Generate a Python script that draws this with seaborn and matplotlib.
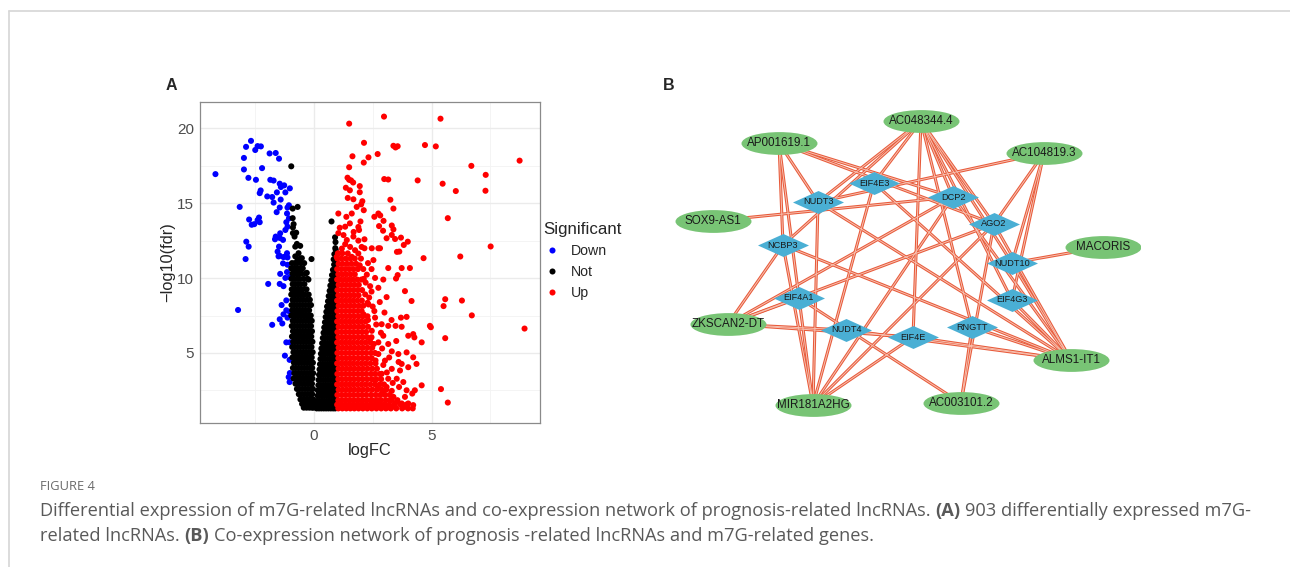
import matplotlib
matplotlib.use("Agg")
import matplotlib.pyplot as plt
import seaborn as sns
import pandas as pd
from matplotlib.path import Path
from matplotlib.lines import Line2D

# ---------------- volcano data: (logFC, -log10 FDR) ----------------
down_points = [
    (-4.18, 16.94), (-2.67, 19.16), (-2.88, 18.76), (-2.39, 18.81), (-2.25, 18.79),
    (-2.49, 18.55), (-1.88, 18.32), (-1.62, 18.35), (-1.48, 17.97), (-2.97, 18.02),
    (-2.97, 17.25), (-2.20, 17.34), (-2.78, 16.69), (-2.46, 16.56), (-1.85, 16.56),
    (-1.71, 16.51), (-1.45, 16.30), (-1.40, 16.08), (-1.26, 16.19), (-1.02, 15.99),
    (-1.21, 15.72), (-1.57, 15.72), (-1.77, 15.41), (-1.98, 15.45), (-1.71, 15.04),
    (-1.41, 15.24), (-1.45, 14.71), (-1.58, 14.40), (-1.12, 14.71), (-1.06, 14.86),
    (-2.26, 15.85), (-2.30, 15.67), (-3.15, 14.75), (-2.75, 13.91), (-2.64, 13.56),
    (-2.53, 13.60), (-2.33, 14.04), (-2.30, 13.73), (-2.39, 13.87), (-2.87, 12.43),
    (-2.77, 12.10), (-2.90, 11.27), (-1.14, 14.31), (-1.06, 13.98), (-1.17, 13.73),
    (-1.12, 13.43), (-1.21, 13.21), (-1.43, 12.99), (-1.62, 12.77), (-1.65, 12.59),
    (-1.45, 12.68), (-1.31, 12.55), (-1.48, 12.10), (-1.54, 11.77), (-1.45, 11.49),
    (-1.21, 11.45), (-1.14, 11.66), (-1.50, 11.45), (-1.29, 11.40), (-1.12, 11.38),
    (-1.31, 10.98), (-1.12, 10.89), (-1.43, 10.28), (-1.21, 10.01), (-1.03, 10.06),
    (-1.14, 10.40), (-1.94, 9.61), (-1.45, 9.61), (-1.29, 9.46), (-3.22, 7.87),
    (-1.17, 8.51), (-1.37, 8.20), (-1.17, 7.85), (-1.03, 7.76), (-1.29, 7.58),
    (-1.45, 7.25), (-1.12, 7.36), (-1.34, 6.97), (-1.77, 6.88), (-1.17, 5.71),
    (-1.02, 5.71), (-1.23, 4.82), (-1.03, 4.54), (-1.02, 3.66), (-1.03, 3.06),
    (-1.07, 3.39),
]

not_points = [
    (-0.96, 17.46), (-0.69, 14.75), (-0.90, 14.64), (-0.90, 14.00), (-0.89, 13.38),
    (-0.75, 13.03), (-0.82, 12.77), (-0.72, 12.28), (-0.58, 12.15), (-0.79, 11.45),
    (-0.58, 11.31), (-0.69, 11.22), (-0.86, 13.60), (-0.89, 13.00), (-0.79, 12.10),
    (-0.65, 11.66), (-0.51, 11.33), (-0.10, 11.27), (0.75, 13.78), (0.90, 12.72),
    (0.92, 12.40), (0.93, 11.88), (0.95, 10.89), (0.93, 10.56), (0.37, 4.86),
    (-0.23, 9.90), (-0.30, 10.35),
]

# dense part of the non-significant cloud: (fdr, [logFC, ...]) per band
not_rows_left = [
    (11.0, [-0.93, -0.81, -0.70, -0.55, -0.41]),
    (10.65, [-0.96, -0.85, -0.73, -0.61, -0.47]),
    (10.3, [-0.91, -0.78, -0.66, -0.53, -0.36]),
    (9.95, [-0.95, -0.84, -0.72, -0.61, -0.44, -0.27]),
    (9.6, [-0.90, -0.79, -0.67, -0.55, -0.40]),
    (9.25, [-0.94, -0.83, -0.71, -0.59, -0.47, -0.31]),
    (8.9, [-0.96, -0.86, -0.74, -0.62, -0.50, -0.38, -0.22]),
    (8.55, [-0.91, -0.80, -0.68, -0.56, -0.44, -0.30, -0.17]),
    (8.2, [-0.95, -0.84, -0.72, -0.60, -0.48, -0.36, -0.23, -0.12]),
    (7.85, [-0.92, -0.80, -0.69, -0.57, -0.45, -0.33, -0.20]),
    (7.5, [-0.96, -0.85, -0.73, -0.61, -0.49, -0.37, -0.25, -0.13]),
    (7.15, [-0.90, -0.79, -0.67, -0.55, -0.43, -0.31, -0.19, -0.09]),
    (6.8, [-0.94, -0.83, -0.71, -0.59, -0.47, -0.35, -0.23, -0.12]),
    (6.45, [-0.89, -0.78, -0.66, -0.54, -0.42, -0.30, -0.18, -0.08]),
    (6.1, [-0.93, -0.82, -0.70, -0.58, -0.46, -0.34, -0.22, -0.11]),
    (5.75, [-0.88, -0.76, -0.64, -0.52, -0.40, -0.28, -0.16, -0.06]),
    (5.4, [-0.92, -0.81, -0.69, -0.57, -0.45, -0.33, -0.21, -0.10]),
    (5.05, [-0.87, -0.75, -0.63, -0.51, -0.39, -0.27, -0.15, -0.05]),
    (4.7, [-0.91, -0.80, -0.68, -0.56, -0.44, -0.32, -0.20, -0.09]),
    (4.35, [-0.85, -0.73, -0.61, -0.49, -0.37, -0.25, -0.13, -0.04]),
    (4.0, [-0.89, -0.77, -0.65, -0.53, -0.41, -0.29, -0.17, -0.07]),
    (3.65, [-0.83, -0.71, -0.59, -0.47, -0.35, -0.23, -0.11, -0.03]),
    (3.3, [-0.86, -0.75, -0.63, -0.51, -0.39, -0.27, -0.15, -0.06]),
    (2.95, [-0.78, -0.66, -0.54, -0.42, -0.30, -0.18, -0.08]),
    (2.6, [-0.72, -0.61, -0.49, -0.37, -0.25, -0.13, -0.04]),
    (2.25, [-0.64, -0.53, -0.41, -0.29, -0.17, -0.07]),
    (1.9, [-0.57, -0.45, -0.33, -0.21, -0.10, -0.03]),
    (1.6, [-0.50, -0.38, -0.26, -0.14, -0.05]),
    (1.35, [-0.43, -0.31, -0.19, -0.08, -0.02]),
]

not_rows_right = [
    (12.0, [0.91]),
    (11.6, [0.87, 0.95]),
    (11.25, [0.84, 0.94]),
    (10.9, [0.86, 0.96]),
    (10.55, [0.81, 0.91]),
    (10.2, [0.77, 0.87, 0.96]),
    (9.85, [0.74, 0.84, 0.93]),
    (9.5, [0.70, 0.80, 0.90, 0.97]),
    (9.15, [0.67, 0.77, 0.87, 0.95]),
    (8.8, [0.63, 0.73, 0.83, 0.93]),
    (8.45, [0.60, 0.70, 0.80, 0.90, 0.97]),
    (8.1, [0.56, 0.66, 0.76, 0.86, 0.95]),
    (7.75, [0.53, 0.63, 0.73, 0.83, 0.93]),
    (7.4, [0.50, 0.60, 0.70, 0.80, 0.90, 0.97]),
    (7.05, [0.47, 0.57, 0.67, 0.77, 0.87, 0.95]),
    (6.7, [0.44, 0.54, 0.64, 0.74, 0.84, 0.93]),
    (6.35, [0.41, 0.51, 0.61, 0.71, 0.81, 0.91, 0.97]),
    (6.0, [0.38, 0.48, 0.58, 0.68, 0.78, 0.88, 0.95]),
    (5.65, [0.35, 0.45, 0.55, 0.65, 0.75, 0.85, 0.93]),
    (5.3, [0.32, 0.42, 0.52, 0.62, 0.72, 0.82, 0.91, 0.97]),
    (4.95, [0.30, 0.40, 0.50, 0.60, 0.70, 0.80, 0.89, 0.96]),
    (4.6, [0.28, 0.38, 0.48, 0.58, 0.68, 0.78, 0.88, 0.95]),
    (4.25, [0.26, 0.36, 0.46, 0.56, 0.66, 0.76, 0.86, 0.94]),
    (3.9, [0.24, 0.34, 0.44, 0.54, 0.64, 0.74, 0.84, 0.93]),
    (3.55, [0.22, 0.32, 0.42, 0.52, 0.62, 0.72, 0.82, 0.91, 0.97]),
    (3.2, [0.20, 0.30, 0.40, 0.50, 0.60, 0.70, 0.80, 0.89, 0.96]),
    (2.85, [0.19, 0.29, 0.39, 0.49, 0.59, 0.69, 0.79, 0.88, 0.95]),
    (2.5, [0.17, 0.27, 0.37, 0.47, 0.57, 0.67, 0.77, 0.87, 0.95]),
    (2.15, [0.16, 0.26, 0.36, 0.46, 0.56, 0.66, 0.76, 0.86, 0.94]),
    (1.8, [0.14, 0.24, 0.34, 0.44, 0.54, 0.64, 0.74, 0.84, 0.93]),
    (1.5, [0.13, 0.23, 0.33, 0.43, 0.53, 0.63, 0.73, 0.83, 0.92]),
    (1.3, [0.12, 0.22, 0.32, 0.42, 0.52, 0.62, 0.72, 0.82, 0.91]),
]

up_points = [
    (1.50, 20.31), (2.98, 20.78), (5.38, 20.64), (2.13, 19.03), (3.38, 18.83),
    (3.47, 18.72), (3.56, 18.80), (4.72, 18.88), (5.18, 18.79), (1.64, 18.13),
    (2.32, 18.06), (2.71, 18.28), (2.12, 17.71), (1.50, 17.40), (8.74, 17.84),
    (6.69, 17.49), (7.30, 16.89), (7.29, 15.83), (5.47, 16.30), (6.03, 15.81),
    (4.41, 16.52), (1.43, 16.70), (1.50, 16.56), (1.58, 16.52), (1.67, 16.38),
    (2.99, 16.61), (3.16, 16.58), (1.95, 16.14), (1.36, 16.03), (1.53, 15.86),
    (1.95, 15.73), (1.44, 15.35), (1.68, 15.26), (2.06, 15.13), (2.01, 14.92),
    (1.82, 14.75), (2.12, 14.53), (3.25, 15.23), (3.38, 14.64), (5.69, 14.00),
    (1.04, 14.31), (1.38, 14.09), (1.61, 14.31), (1.98, 13.78), (2.57, 14.09),
    (2.74, 14.31), (2.82, 14.18), (1.10, 13.36), (1.33, 13.43), (1.53, 13.65),
    (1.89, 13.41), (1.92, 13.21), (1.69, 13.08), (2.77, 13.47), (2.96, 13.82),
    (2.94, 13.16), (3.31, 13.51), (3.38, 13.25), (3.45, 12.61), (3.70, 12.70),
    (3.82, 12.21), (3.99, 12.43), (3.09, 12.66), (3.31, 12.88), (1.04, 13.00),
    (1.26, 12.87), (1.40, 12.54), (1.68, 12.77), (1.89, 12.50), (2.15, 12.59),
    (2.15, 11.99), (2.46, 11.99), (2.74, 11.99), (2.81, 11.99), (2.03, 12.08),
    (1.75, 11.86), (1.54, 12.08), (1.33, 12.26), (1.19, 11.97), (1.04, 11.64),
    (0.97, 11.42), (3.63, 11.77), (3.53, 11.75), (1.89, 11.64), (1.61, 11.42),
    (4.66, 11.33), (7.51, 12.11), (6.22, 11.44), (5.58, 8.59), (5.51, 8.13),
    (6.29, 8.50), (6.71, 7.51), (4.97, 6.72), (8.95, 6.63), (5.58, 5.99),
    (5.40, 2.59), (5.69, 1.69), (2.53, 11.20), (3.16, 10.67), (3.73, 10.67),
    (4.08, 10.67), (3.49, 9.97), (3.56, 10.20), (2.95, 9.90), (2.74, 9.35),
    (3.09, 8.73), (3.87, 9.13), (4.15, 8.47), (3.70, 7.36), (3.94, 7.41),
    (3.47, 6.81), (3.73, 6.75), (4.01, 6.15), (4.22, 6.26), (4.58, 5.71),
    (4.93, 6.81), (4.27, 6.04), (4.22, 4.71), (3.94, 5.04), (3.59, 4.93),
    (3.73, 4.27), (4.01, 4.05), (4.36, 4.27), (3.66, 3.83), (3.52, 3.28),
    (3.80, 3.06), (3.62, 2.73), (3.94, 2.51), (4.18, 2.29), (3.31, 2.47),
    (3.09, 2.73), (3.38, 2.07), (3.87, 2.07), (4.22, 1.52), (4.58, 2.84),
    (4.29, 2.51), (2.95, 6.15), (3.16, 5.60), (3.31, 5.11), (2.74, 4.93),
    (3.02, 4.49), (3.31, 3.94), (2.60, 7.36), (2.88, 6.92), (2.46, 6.48),
    (3.16, 6.81), (2.74, 5.71), (2.18, 8.91), (2.32, 8.24), (2.57, 7.80),
    (2.11, 7.58), (2.39, 9.46), (2.60, 10.01), (2.25, 10.23), (2.88, 3.61),
    (2.60, 3.17), (3.16, 3.28), (2.95, 2.29), (2.74, 1.84), (3.23, 1.84),
    (3.52, 1.73), (3.73, 1.63), (4.01, 1.63), (2.95, 1.52), (2.60, 1.52),
    (2.46, 1.84), (2.25, 1.41), (3.87, 1.41), (3.45, 1.41), (3.14, 1.37),
    # looser fringe along the right edge of the dense cloud
    (2.45, 10.60), (2.20, 9.70), (2.35, 8.70), (2.50, 8.10), (2.65, 6.90),
    (2.55, 5.60), (2.90, 5.30), (2.95, 4.20), (3.10, 3.70), (3.35, 3.00),
    (2.30, 7.20), (2.10, 10.60), (2.30, 11.00), (2.00, 11.30), (2.80, 8.40),
    (2.45, 9.10), (3.00, 7.70), (3.30, 7.20), (3.50, 5.80), (3.20, 4.70),
    (3.60, 4.40), (2.70, 2.60), (2.85, 6.35), (2.40, 5.95), (2.62, 4.50),
    (2.12, 9.95), (1.95, 10.85), (2.28, 8.35),
]

# dense part of the up-regulated cloud: (fdr, [logFC, ...]) per band
up_rows = [
    (11.65, [1.02, 1.21, 1.44]),
    (11.3, [1.00, 1.18, 1.36, 1.55, 1.74]),
    (10.95, [1.05, 1.22, 1.41, 1.60, 1.80]),
    (10.6, [0.99, 1.16, 1.33, 1.50, 1.68, 1.87]),
    (10.25, [1.04, 1.21, 1.38, 1.56, 1.74]),
    (9.9, [0.99, 1.15, 1.32, 1.49, 1.66, 1.84, 2.02]),
    (9.55, [1.05, 1.22, 1.39, 1.56, 1.73, 1.91]),
    (9.2, [1.00, 1.17, 1.34, 1.51, 1.68, 1.86, 2.05]),
    (8.85, [1.04, 1.21, 1.38, 1.55, 1.72, 1.90]),
    (8.5, [0.99, 1.16, 1.33, 1.50, 1.67, 1.85, 2.04]),
    (8.15, [1.05, 1.22, 1.39, 1.56, 1.73, 1.92, 2.10]),
    (7.8, [1.00, 1.17, 1.34, 1.51, 1.68, 1.86, 2.03]),
    (7.45, [1.04, 1.21, 1.38, 1.55, 1.72, 1.90, 2.08, 2.28]),
    (7.1, [0.99, 1.16, 1.33, 1.50, 1.67, 1.85, 2.02, 2.20]),
    (6.75, [1.05, 1.22, 1.39, 1.56, 1.73, 1.91, 2.09, 2.30]),
    (6.4, [1.00, 1.17, 1.34, 1.51, 1.68, 1.86, 2.04, 2.22]),
    (6.05, [1.04, 1.21, 1.38, 1.55, 1.72, 1.90, 2.08, 2.27, 2.45]),
    (5.7, [0.99, 1.16, 1.33, 1.50, 1.67, 1.85, 2.03, 2.21, 2.40]),
    (5.35, [1.05, 1.22, 1.39, 1.56, 1.73, 1.91, 2.09, 2.28, 2.48]),
    (5.0, [1.00, 1.17, 1.34, 1.51, 1.68, 1.86, 2.04, 2.22, 2.42, 2.60]),
    (4.65, [1.04, 1.21, 1.38, 1.55, 1.72, 1.90, 2.08, 2.27, 2.46]),
    (4.3, [0.99, 1.16, 1.33, 1.50, 1.67, 1.85, 2.03, 2.21, 2.40, 2.62]),
    (3.95, [1.05, 1.22, 1.39, 1.56, 1.73, 1.91, 2.09, 2.28, 2.48, 2.68]),
    (3.6, [1.00, 1.17, 1.34, 1.51, 1.68, 1.86, 2.04, 2.22, 2.42, 2.60, 2.80]),
    (3.25, [1.04, 1.21, 1.38, 1.55, 1.72, 1.90, 2.08, 2.27, 2.46, 2.66, 2.86]),
    (2.9, [0.99, 1.16, 1.33, 1.50, 1.67, 1.85, 2.03, 2.21, 2.40, 2.60, 2.80, 2.98]),
    (2.55, [1.05, 1.22, 1.39, 1.56, 1.73, 1.91, 2.09, 2.28, 2.48, 2.68, 2.88, 3.08]),
    (2.2, [1.00, 1.17, 1.34, 1.51, 1.68, 1.86, 2.04, 2.22, 2.42, 2.62, 2.82, 3.02, 3.22]),
    (1.85, [1.04, 1.21, 1.38, 1.55, 1.72, 1.90, 2.08, 2.27, 2.46, 2.66, 2.86, 3.06, 3.30, 3.55]),
    (1.55, [0.99, 1.16, 1.33, 1.50, 1.67, 1.85, 2.03, 2.21, 2.40, 2.60, 2.80, 3.00, 3.20, 3.42, 3.68, 3.92]),
    (1.3, [1.04, 1.21, 1.38, 1.55, 1.72, 1.90, 2.08, 2.27, 2.46, 2.66, 2.86, 3.06, 3.27, 3.50, 3.75, 4.00, 4.20]),
]

sig_levels = ["Down", "Not", "Up"]
sig_colors = ["#0000FF", "#000000", "#FF0000"]

x_ticks = [0, 5]
y_ticks = [5, 10, 15, 20]

# ---------------- network data ----------------
lnc_nodes = ["AC048344.4", "AP001619.1", "AC104819.3", "SOX9-AS1", "MACORIS",
             "ZKSCAN2-DT", "ALMS1-IT1", "MIR181A2HG", "AC003101.2"]
gene_nodes = ["EIF4E3", "NUDT3", "DCP2", "AGO2", "NCBP3", "NUDT10",
              "EIF4G3", "EIF4A1", "NUDT4", "EIF4E", "RNGTT"]

edges = [
    ("AC048344.4", "NUDT3"), ("AC048344.4", "NCBP3"), ("AC048344.4", "EIF4E3"),
    ("AC048344.4", "DCP2"), ("AC048344.4", "AGO2"), ("AC048344.4", "NUDT10"),
    ("AC048344.4", "EIF4G3"), ("AC048344.4", "RNGTT"), ("AC048344.4", "EIF4E"),
    ("AP001619.1", "NUDT3"), ("AP001619.1", "NCBP3"), ("AP001619.1", "EIF4A1"),
    ("AP001619.1", "DCP2"), ("AP001619.1", "AGO2"),
    ("AC104819.3", "NUDT3"), ("AC104819.3", "AGO2"), ("AC104819.3", "NUDT10"),
    ("AC104819.3", "EIF4G3"),
    ("SOX9-AS1", "DCP2"),
    ("MACORIS", "NUDT10"),
    ("ZKSCAN2-DT", "NCBP3"), ("ZKSCAN2-DT", "EIF4A1"), ("ZKSCAN2-DT", "DCP2"),
    ("ZKSCAN2-DT", "AGO2"), ("ZKSCAN2-DT", "NUDT4"), ("ZKSCAN2-DT", "EIF4E"),
    ("ALMS1-IT1", "NUDT3"), ("ALMS1-IT1", "EIF4E3"), ("ALMS1-IT1", "NCBP3"),
    ("ALMS1-IT1", "DCP2"), ("ALMS1-IT1", "AGO2"), ("ALMS1-IT1", "NUDT10"),
    ("ALMS1-IT1", "EIF4G3"), ("ALMS1-IT1", "RNGTT"), ("ALMS1-IT1", "EIF4E"),
    ("ALMS1-IT1", "NUDT4"),
    ("MIR181A2HG", "NCBP3"), ("MIR181A2HG", "EIF4A1"), ("MIR181A2HG", "NUDT3"),
    ("MIR181A2HG", "EIF4E3"), ("MIR181A2HG", "DCP2"), ("MIR181A2HG", "AGO2"),
    ("MIR181A2HG", "EIF4E"),
    ("AC003101.2", "EIF4A1"), ("AC003101.2", "AGO2"), ("AC003101.2", "RNGTT"),
]

# layout of the network (canvas units, y grows downward)
layout = {
    "AC048344.4": (921, 121), "AP001619.1": (779, 143), "AC104819.3": (1044, 153),
    "SOX9-AS1": (713, 221), "MACORIS": (1103, 247), "ZKSCAN2-DT": (728, 324),
    "ALMS1-IT1": (1071, 360), "MIR181A2HG": (813, 405), "AC003101.2": (961, 403),
    "EIF4E3": (874, 183), "NUDT3": (818, 202), "DCP2": (953, 197), "AGO2": (994, 224),
    "NCBP3": (783, 245), "NUDT10": (1012, 263), "EIF4G3": (1012, 300),
    "EIF4A1": (799, 298), "NUDT4": (846, 330), "EIF4E": (913, 337), "RNGTT": (972, 327),
}

caption_head = "FIGURE 4"
caption_line1 = [("Differential expression of m7G-related lncRNAs and co-expression network of prognosis-related lncRNAs.", "normal"),
                 ("(A)", "bold"), ("903 differentially expressed m7G-", "normal")]
caption_line2 = [("related lncRNAs.", "normal"), ("(B)", "bold"),
                 ("Co-expression network of prognosis -related lncRNAs and m7G-related genes.", "normal")]

# ---------------- build the volcano table ----------------
def band_points(rows):
    return [(x, y) for y, xs in rows for x in xs]

groups = {
    "Down": down_points,
    "Not": not_points + band_points(not_rows_left) + band_points(not_rows_right),
    "Up": up_points + band_points(up_rows),
}
df = pd.concat(
    [pd.DataFrame(pts, columns=["logFC", "fdr"]).assign(Significant=lab)
     for lab, pts in groups.items()],
    ignore_index=True,
)

# ---------------- figure ----------------
sns.set_style("white")
plt.rcParams["font.family"] = ["Liberation Sans", "DejaVu Sans"]

W, H = 1290, 567
fig = plt.figure(figsize=(W / 100, H / 100), dpi=100)


def fx(px):
    return px / W


def fy(py):
    return 1 - py / H


# card border
fig.add_artist(Line2D([fx(9), 1.0], [fy(11), fy(11)], color="#d6d6d6", lw=1.2))
fig.add_artist(Line2D([fx(9), fx(9)], [fy(11), 0.0], color="#d6d6d6", lw=1.2))

# ---- panel A: volcano ----
ax = fig.add_axes([fx(200), fy(423), fx(540) - fx(200), fy(102) - fy(423)])
sns.scatterplot(
    data=df, x="logFC", y="fdr", hue="Significant", hue_order=sig_levels,
    palette=dict(zip(sig_levels, sig_colors)), s=19, linewidth=0,
    edgecolor="none", ax=ax,
)
xmin, xmax = df["logFC"].min(), df["logFC"].max()
ymin, ymax = df["fdr"].min(), df["fdr"].max()
xpad, ypad = 0.05 * (xmax - xmin), 0.05 * (ymax - ymin)
ax.set_xlim(xmin - xpad, xmax + xpad)
ax.set_ylim(ymin - ypad, ymax + ypad)
ax.set_xticks(x_ticks)
ax.set_yticks(y_ticks)
ax.set_xticks([t + 2.5 for t in [-5] + x_ticks], minor=True)
ax.set_yticks([t - 2.5 for t in y_ticks], minor=True)
ax.grid(which="major", color="#ebebeb", lw=1.0)
ax.grid(which="minor", color="#f3f3f3", lw=0.6)
ax.set_axisbelow(True)
ax.tick_params(which="major", length=3, width=0.6, color="#555555",
               labelsize=11, labelcolor="#4d4d4d", pad=1.5)
ax.tick_params(which="minor", length=0)
for sp in ax.spines.values():
    sp.set_color("#8a8a8a")
    sp.set_linewidth(0.9)
ax.set_xlabel("logFC", fontsize=11.8, labelpad=0)
ax.set_ylabel("\u2212log10(fdr)", fontsize=11.8, labelpad=1)

sns.move_legend(
    ax, "upper left", bbox_to_anchor=(fx(543), fy(222)),
    bbox_transform=fig.transFigure, frameon=False, title="Significant",
    borderpad=0, borderaxespad=0, handlelength=1.3, handletextpad=0.65,
    labelspacing=0.5, fontsize=10.2, title_fontsize=12.2,
)
leg = ax.get_legend()
leg._legend_box.align = "left"

fig.text(fx(171), fy(86), "A", fontsize=11.5, fontweight="bold", ha="center", va="center")
fig.text(fx(669), fy(86), "B", fontsize=11.5, fontweight="bold", ha="center", va="center")

# ---- panel B: co-expression network ----
axn = fig.add_axes([fx(655), fy(430), fx(1140) - fx(655), fy(100) - fy(430)])
axn.set_xlim(655, 1140)
axn.set_ylim(430, 100)
axn.axis("off")

for a, b in edges:
    (x1, y1), (x2, y2) = layout[a], layout[b]
    axn.plot([x1, x2], [y1, y2], color="#e85a3a", lw=2.2, solid_capstyle="butt", zorder=1)
    axn.plot([x1, x2], [y1, y2], color="#f7c2b2", lw=0.7, solid_capstyle="butt", zorder=1.1)

circle = Path.unit_circle()
ellipse_marker = Path(circle.vertices * [1.0, 0.30], circle.codes)
diamond_marker = Path([(-1, 0), (0, 0.45), (1, 0), (0, -0.45), (-1, 0)],
                      [Path.MOVETO, Path.LINETO, Path.LINETO, Path.LINETO, Path.CLOSEPOLY])

axn.scatter([layout[n][0] for n in lnc_nodes], [layout[n][1] for n in lnc_nodes],
            marker=ellipse_marker, s=(76 * 0.72) ** 2, color="#78c475",
            linewidths=0, zorder=3)
axn.scatter([layout[n][0] for n in gene_nodes], [layout[n][1] for n in gene_nodes],
            marker=diamond_marker, s=(51 * 0.72) ** 2, color="#4aafd4",
            linewidths=0, zorder=3)
for n in lnc_nodes:
    axn.text(*layout[n], n, fontsize=8.4, ha="center", va="center", color="#1a1a1a", zorder=4)
for n in gene_nodes:
    axn.text(*layout[n], n, fontsize=6.6, ha="center", va="center", color="#1a1a1a", zorder=4)

# ---- caption ----
cap_font = ["Open Sans", "DejaVu Sans"]
fig.text(fx(40), fy(487), caption_head, fontsize=9.3, color="#6a6a6a",
         family=cap_font, ha="left", va="center")

renderer = fig.canvas.get_renderer()


def text_width(s, size, weight="normal"):
    t = fig.text(0, 0, s, fontsize=size, fontweight=weight, family=cap_font)
    w = t.get_window_extent(renderer).width
    t.remove()
    return w


def line_width(runs, size):
    space = text_width("a a", size) - text_width("aa", size)
    return sum(text_width(s, size, w) for s, w in runs) + space * (len(runs) - 1)


# caption size chosen so that the first line fills the text column (40 px to 1255 px)
base = 11.0
cap_size = base * (1255 - 40) / line_width(caption_line1, base)


def run_line(y_px, runs, size, color):
    space = text_width("a a", size) - text_width("aa", size)
    x = 40.0
    for text, weight in runs:
        t = fig.text(fx(x), fy(y_px), text, fontsize=size, color=color,
                     fontweight=weight, family=cap_font, ha="left", va="center")
        x += t.get_window_extent(renderer).width + space


run_line(511, caption_line1, cap_size, "#595959")
run_line(536, caption_line2, cap_size, "#595959")

fig.savefig("out.png", dpi=100, facecolor="white")
